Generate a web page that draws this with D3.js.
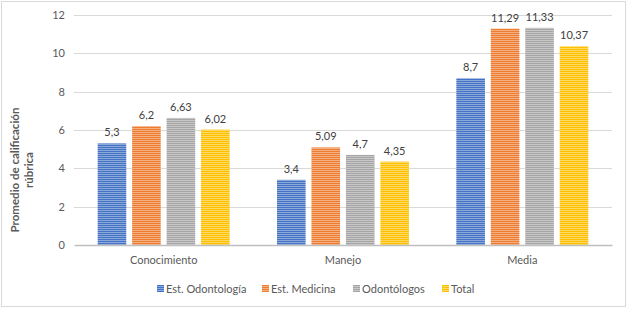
<!DOCTYPE html>
<html>
<head>
<meta charset="utf-8">
<script src="https://cdn.jsdelivr.net/npm/d3@7"></script>
<style>
  body { margin: 0; background: #fff; }
  svg { display: block; font-family: Lato, "Open Sans", sans-serif; }
</style>
</head>
<body>
<svg id="chart" width="627" height="309"></svg>
<script>
const categories = ["Conocimiento", "Manejo", "Media"];
const seriesNames = ["Est. Odontología", "Est. Medicina", "Odontólogos", "Total"];
const estOdontologia = [5.3, 3.4, 8.7];
const estMedicina = [6.2, 5.09, 11.29];
const odontologos = [6.63, 4.7, 11.33];
const total = [6.02, 4.35, 10.37];
const yTicks = [0, 2, 4, 6, 8, 10, 12];
const colors = ["#4472C4", "#ED7D31", "#A5A5A5", "#FFC000"];

const seriesValues = [estOdontologia, estMedicina, odontologos, total];
const rows = categories.map((c, i) => ({
    cat: c,
    vals: seriesNames.map((s, j) => ({ key: s, idx: j, v: seriesValues[j][i] }))
}));

const svg = d3.select("#chart");
const width = 627, height = 309;
const m = { left: 74, right: 15, top: 15, bottom: 64 };
const plotW = width - m.left - m.right;
const plotH = height - m.top - m.bottom;

// outer border
svg.append("rect").attr("x", 1.5).attr("y", 1.5).attr("width", width - 3).attr("height", height - 4)
    .attr("fill", "#fff").attr("stroke", "#d9d9d9").attr("stroke-width", 1);

// striped fills
const defs = svg.append("defs");
colors.forEach((c, i) => {
    const p = defs.append("pattern").attr("id", "stripe" + i).attr("patternUnits", "userSpaceOnUse")
        .attr("width", 4).attr("height", 2);
    p.append("rect").attr("width", 4).attr("height", 2).attr("fill", c);
    p.append("rect").attr("y", 1).attr("width", 4).attr("height", 1).attr("fill", "#fff").attr("opacity", 0.38);
});

const g = svg.append("g").attr("transform", `translate(${m.left},${m.top})`);

const y = d3.scaleLinear().domain([0, 12]).range([plotH, 0]);
const x0 = d3.scaleBand().domain(categories).range([0, plotW]).paddingInner(0.264).paddingOuter(0.132);
const x1 = d3.scaleBand().domain(seriesNames).range([0, x0.bandwidth()]).paddingInner(0.17);

// gridlines
g.append("g").selectAll("line").data(yTicks.filter(t => t > 0)).enter().append("line")
    .attr("x1", 0).attr("x2", plotW)
    .attr("y1", d => Math.round(y(d)) + 0.5).attr("y2", d => Math.round(y(d)) + 0.5)
    .attr("stroke", "#d9d9d9").attr("stroke-width", 1);

// y tick labels
const yAxis = g.append("g").call(d3.axisLeft(y).tickValues(yTicks).tickSize(0).tickPadding(9));
yAxis.select(".domain").remove();
yAxis.selectAll("text").attr("font-size", "11px").attr("fill", "#595959").attr("font-family", "Lato, sans-serif");

// bars
const grp = g.append("g").selectAll("g").data(rows).enter().append("g")
    .attr("transform", d => `translate(${x0(d.cat)},0)`);

grp.selectAll("rect").data(d => d.vals).enter().append("rect")
    .attr("x", d => x1(d.key)).attr("width", x1.bandwidth())
    .attr("y", d => y(d.v)).attr("height", d => y(0) - y(d.v))
    .attr("fill", d => `url(#stripe${d.idx})`);

grp.selectAll("text").data(d => d.vals).enter().append("text")
    .attr("x", d => x1(d.key) + x1.bandwidth() / 2).attr("y", d => y(d.v) - 7)
    .attr("text-anchor", "middle").attr("font-size", "11px").attr("fill", "#404040")
    .text(d => String(d.v).replace(".", ","));

// x axis
const xAxis = g.append("g").attr("transform", `translate(0,${plotH})`)
    .call(d3.axisBottom(x0).tickSize(0).tickPadding(11));
xAxis.select(".domain").attr("stroke", "#bfbfbf").attr("stroke-width", 1.5);
xAxis.selectAll("text").attr("font-size", "11px").attr("fill", "#595959").attr("font-family", "Lato, sans-serif");

// y axis title
const yt = svg.append("text").attr("transform", "translate(20,170) rotate(-90)")
    .attr("text-anchor", "middle").attr("font-size", "11.5px").attr("font-weight", "bold").attr("fill", "#595959");
yt.append("tspan").attr("x", 0).attr("dy", -1).text("Promedio de calificación");
yt.append("tspan").attr("x", 0).attr("dy", 13.5).text("rúbrica");

// legend
const legendX = [157, 262, 353, 442];
const lg = svg.append("g").selectAll("g").data(seriesNames).enter().append("g")
    .attr("transform", (d, i) => `translate(${legendX[i]},285)`);
lg.append("rect").attr("width", 7).attr("height", 7).attr("fill", (d, i) => `url(#stripe${i})`);
lg.append("text").attr("x", 9).attr("y", 7.5).attr("font-size", "11px").attr("fill", "#595959").text(d => d);
</script>
</body>
</html>
